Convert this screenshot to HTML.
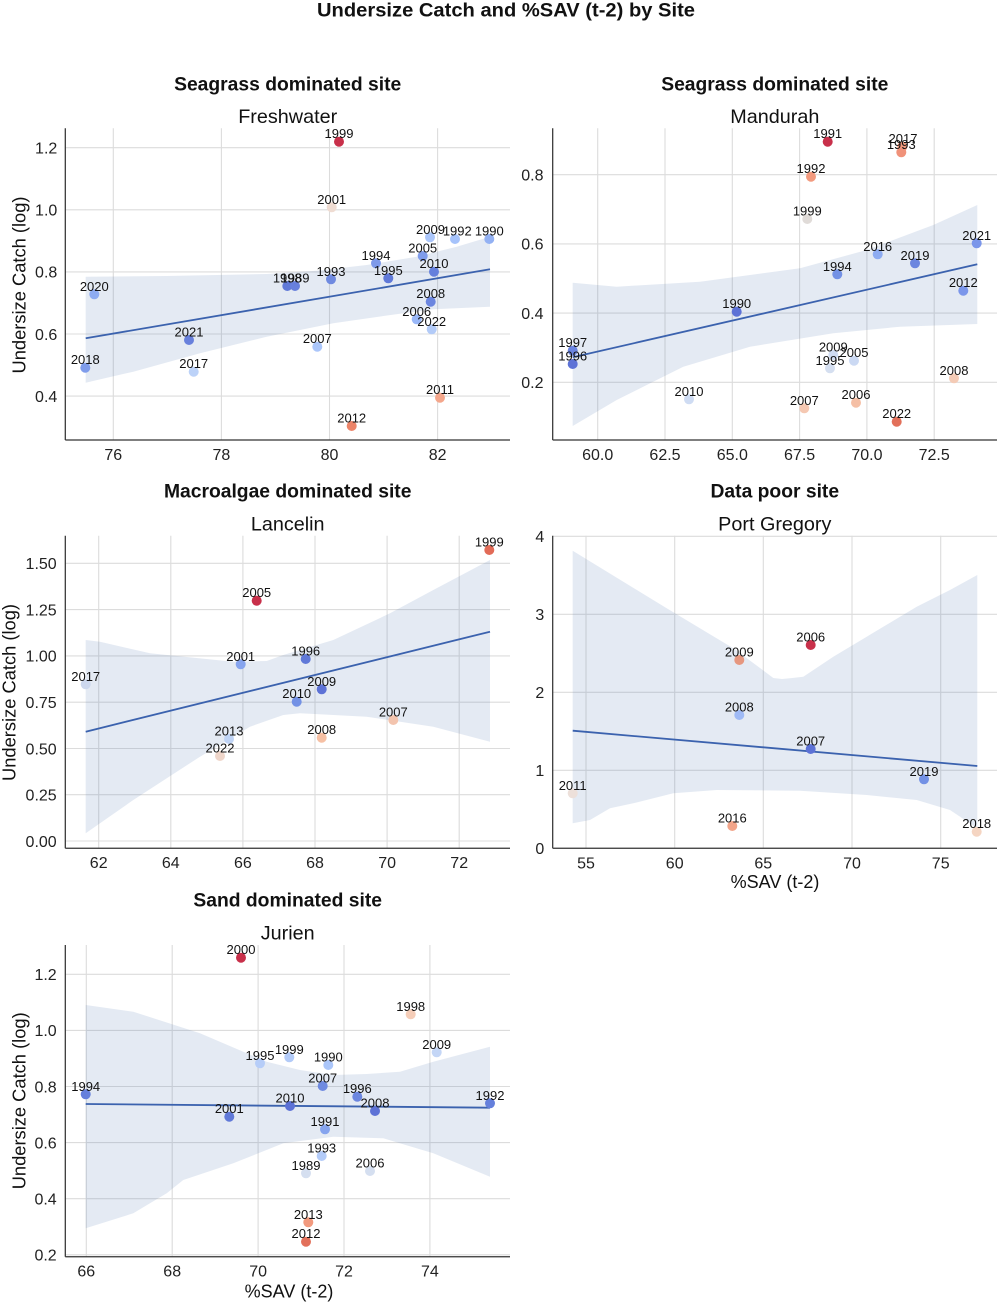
<!DOCTYPE html>
<html><head><meta charset="utf-8"><style>
html,body{margin:0;padding:0;background:#fff;}
svg{display:block;font-family:"Liberation Sans",Arial,sans-serif;}
.g{stroke:#dcdcdc;stroke-width:1.1;}
.sp{stroke:#333;stroke-width:1.25;}
.band{fill:#4c72b0;fill-opacity:0.15;stroke:none;}
.rl{stroke:#3b62ae;stroke-width:1.8;fill:none;}
.tk{font-size:16px;fill:#222;}
.a{font-size:13px;fill:#111;text-anchor:middle;}
.bt{font-size:19.3px;font-weight:bold;fill:#111;text-anchor:middle;}
.st{font-size:19.8px;fill:#111;text-anchor:middle;}
.al{font-size:18px;fill:#111;text-anchor:middle;}
</style></head><body>
<svg width="1000" height="1302" viewBox="0 0 1000 1302" xmlns="http://www.w3.org/2000/svg">
<rect width="1000" height="1302" fill="#fff"/>
<text x="506" y="16.5" font-size="19.5" font-weight="bold" fill="#111" text-anchor="middle" textLength="378" lengthAdjust="spacingAndGlyphs">Undersize Catch and %SAV (t-2) by Site</text>

<!-- ===== Plot 1 Freshwater ===== -->
<g>
<line class="g" x1="65.3" y1="147.7" x2="510" y2="147.7"/>
<line class="g" x1="65.3" y1="209.8" x2="510" y2="209.8"/>
<line class="g" x1="65.3" y1="271.9" x2="510" y2="271.9"/>
<line class="g" x1="65.3" y1="334" x2="510" y2="334"/>
<line class="g" x1="65.3" y1="396.1" x2="510" y2="396.1"/>
<line class="g" x1="113.3" y1="128.3" x2="113.3" y2="440"/>
<line class="g" x1="221.4" y1="128.3" x2="221.4" y2="440"/>
<line class="g" x1="329.5" y1="128.3" x2="329.5" y2="440"/>
<line class="g" x1="437.6" y1="128.3" x2="437.6" y2="440"/>
<polygon class="band" points="85.7,276.7 166.7,276 266.7,274 316.7,270.7 366.7,265 416.7,256.7 456.7,246.7 490,236.7 490,306.7 433.3,309.3 383.3,316 333.3,323.3 266.7,336.7 200,353.3 133.3,371.7 85.7,382.7"/>
<line class="rl" x1="85.7" y1="338.3" x2="490" y2="269.3"/>
<line class="sp" x1="65.3" y1="128.3" x2="65.3" y2="440"/>
<line class="sp" x1="65.3" y1="440" x2="510" y2="440"/>
<g class="tk" text-anchor="end">
<text x="57.3" y="153.5">1.2</text><text x="57.3" y="215.6">1.0</text><text x="57.3" y="277.7">0.8</text><text x="57.3" y="339.8">0.6</text><text x="57.3" y="401.9">0.4</text>
</g>
<g class="tk" text-anchor="middle">
<text x="113.3" y="460">76</text><text x="221.4" y="460">78</text><text x="329.5" y="460">80</text><text x="437.6" y="460">82</text>
</g>
<text class="bt" x="287.7" y="90.5">Seagrass dominated site</text>
<text class="st" x="287.7" y="123">Freshwater</text>
<text class="al" transform="translate(25.5,285) rotate(-90)" textLength="177" lengthAdjust="spacingAndGlyphs">Undersize Catch (log)</text>
<circle cx="339" cy="141.7" r="5" fill="#c8304a"/>
<circle cx="331.7" cy="207.3" r="5" fill="#efdcd2"/>
<circle cx="430" cy="237.3" r="5" fill="#abc6fa"/>
<circle cx="455" cy="239" r="5" fill="#a6c3fb"/>
<circle cx="489.3" cy="239" r="5" fill="#93b1f3"/>
<circle cx="422.7" cy="256" r="5" fill="#7f9ceb"/>
<circle cx="376" cy="263.3" r="5" fill="#7e9aea"/>
<circle cx="434" cy="271.7" r="5" fill="#6580dc"/>
<circle cx="388.3" cy="278.3" r="5" fill="#6079d8"/>
<circle cx="331" cy="279.3" r="5" fill="#6f8ae0"/>
<circle cx="287.3" cy="286" r="5" fill="#6079d8"/>
<circle cx="295" cy="286" r="5" fill="#6880dc"/>
<circle cx="94.3" cy="294.3" r="5" fill="#8eacf2"/>
<circle cx="430.7" cy="301.7" r="5" fill="#6c86df"/>
<circle cx="416.7" cy="319.3" r="5" fill="#9ab8f8"/>
<circle cx="431.7" cy="329.3" r="5" fill="#b3cbf8"/>
<circle cx="189" cy="340" r="5" fill="#6880dc"/>
<circle cx="317.3" cy="346.7" r="5" fill="#abc6fa"/>
<circle cx="85.3" cy="367.7" r="5" fill="#7f9ceb"/>
<circle cx="193.7" cy="371.7" r="5" fill="#bcd2f8"/>
<circle cx="440" cy="397.7" r="5" fill="#f4a68b"/>
<circle cx="351.7" cy="426" r="5" fill="#ec8469"/>
<text class="a" x="339" y="138.2">1999</text>
<text class="a" x="331.7" y="203.8">2001</text>
<text class="a" x="430.5" y="233.8">2009</text>
<text class="a" x="457.3" y="235.5">1992</text>
<text class="a" x="489.3" y="235.5">1990</text>
<text class="a" x="422.7" y="252.5">2005</text>
<text class="a" x="376" y="259.8">1994</text>
<text class="a" x="434" y="268.2">2010</text>
<text class="a" x="388.3" y="274.8">1995</text>
<text class="a" x="331" y="275.8">1993</text>
<text class="a" x="287.3" y="282.5">1998</text>
<text class="a" x="295" y="282.5">1989</text>
<text class="a" x="94.3" y="290.8">2020</text>
<text class="a" x="430.7" y="298.2">2008</text>
<text class="a" x="416.7" y="315.8">2006</text>
<text class="a" x="431.7" y="325.8">2022</text>
<text class="a" x="189" y="336.5">2021</text>
<text class="a" x="317.3" y="343.2">2007</text>
<text class="a" x="85.3" y="364.2">2018</text>
<text class="a" x="193.7" y="368.2">2017</text>
<text class="a" x="440" y="394.2">2011</text>
<text class="a" x="351.7" y="422.5">2012</text>
</g>

<!-- ===== Plot 2 Mandurah ===== -->
<g>
<line class="g" x1="552.7" y1="174.7" x2="997" y2="174.7"/>
<line class="g" x1="552.7" y1="243.9" x2="997" y2="243.9"/>
<line class="g" x1="552.7" y1="313.1" x2="997" y2="313.1"/>
<line class="g" x1="552.7" y1="382.3" x2="997" y2="382.3"/>
<line class="g" x1="597.7" y1="128.3" x2="597.7" y2="440"/>
<line class="g" x1="665" y1="128.3" x2="665" y2="440"/>
<line class="g" x1="732.3" y1="128.3" x2="732.3" y2="440"/>
<line class="g" x1="799.6" y1="128.3" x2="799.6" y2="440"/>
<line class="g" x1="866.9" y1="128.3" x2="866.9" y2="440"/>
<line class="g" x1="934.2" y1="128.3" x2="934.2" y2="440"/>
<polygon class="band" points="572.7,282.7 616.7,286.7 700,281.7 800,268.3 866.7,250 933.3,225 977.3,205 977.3,324 900,326.7 833.3,333.3 750,346.7 683.3,366.7 616.7,400 572.7,426"/>
<line class="rl" x1="572.7" y1="357.3" x2="977.3" y2="264.3"/>
<line class="sp" x1="552.7" y1="128.3" x2="552.7" y2="440"/>
<line class="sp" x1="552.7" y1="440" x2="997" y2="440"/>
<g class="tk" text-anchor="end">
<text x="543.5" y="180.5">0.8</text><text x="543.5" y="249.7">0.6</text><text x="543.5" y="318.9">0.4</text><text x="543.5" y="388.1">0.2</text>
</g>
<g class="tk" text-anchor="middle">
<text x="597.7" y="460">60.0</text><text x="665" y="460">62.5</text><text x="732.3" y="460">65.0</text><text x="799.6" y="460">67.5</text><text x="866.9" y="460">70.0</text><text x="934.2" y="460">72.5</text>
</g>
<text class="bt" x="774.8" y="90.5">Seagrass dominated site</text>
<text class="st" x="774.8" y="123">Mandurah</text>
<circle cx="827.7" cy="141.7" r="5" fill="#c8304a"/>
<circle cx="902.3" cy="146.7" r="5" fill="#f29a7e"/>
<circle cx="901.3" cy="152.3" r="5" fill="#f0927a"/>
<circle cx="811" cy="176.7" r="5" fill="#f29a7e"/>
<circle cx="807.3" cy="219" r="5" fill="#e0dbd8"/>
<circle cx="976.7" cy="243.3" r="5" fill="#7b96ea"/>
<circle cx="877.7" cy="254.3" r="5" fill="#8eacf2"/>
<circle cx="915" cy="263.3" r="5" fill="#6c86df"/>
<circle cx="837.3" cy="274.3" r="5" fill="#7391e5"/>
<circle cx="963.3" cy="290.7" r="5" fill="#7b96ea"/>
<circle cx="736.7" cy="311.7" r="5" fill="#5d72d6"/>
<circle cx="572.7" cy="350.7" r="5" fill="#6a84e0"/>
<circle cx="572.7" cy="364" r="5" fill="#5d72d6"/>
<circle cx="833.3" cy="355" r="5" fill="#cfdcf3"/>
<circle cx="854" cy="360.7" r="5" fill="#cbd9f3"/>
<circle cx="830" cy="368.3" r="5" fill="#d5dff0"/>
<circle cx="954" cy="378.3" r="5" fill="#f4cbb6"/>
<circle cx="689" cy="399.3" r="5" fill="#cfdcf3"/>
<circle cx="804.3" cy="408.3" r="5" fill="#f5c8b2"/>
<circle cx="856" cy="402.7" r="5" fill="#f5bfa5"/>
<circle cx="896.7" cy="421.7" r="5" fill="#e2705a"/>
<text class="a" x="827.7" y="138.2">1991</text>
<text class="a" x="903" y="143.2">2017</text>
<text class="a" x="901.3" y="148.8">1993</text>
<text class="a" x="811" y="173.2">1992</text>
<text class="a" x="807.3" y="215.5">1999</text>
<text class="a" x="976.7" y="239.8">2021</text>
<text class="a" x="877.7" y="250.8">2016</text>
<text class="a" x="915" y="259.8">2019</text>
<text class="a" x="837.3" y="270.8">1994</text>
<text class="a" x="963.3" y="287.2">2012</text>
<text class="a" x="736.7" y="308.2">1990</text>
<text class="a" x="572.7" y="347.2">1997</text>
<text class="a" x="572.7" y="360.5">1996</text>
<text class="a" x="833.3" y="351.5">2009</text>
<text class="a" x="854" y="357.2">2005</text>
<text class="a" x="830" y="364.8">1995</text>
<text class="a" x="954" y="374.8">2008</text>
<text class="a" x="689" y="395.8">2010</text>
<text class="a" x="804.3" y="404.8">2007</text>
<text class="a" x="856" y="399.2">2006</text>
<text class="a" x="896.7" y="418.2">2022</text>
</g>

<!-- ===== Plot 3 Lancelin ===== -->
<g>
<line class="g" x1="65.3" y1="563.3" x2="510" y2="563.3"/>
<line class="g" x1="65.3" y1="609.6" x2="510" y2="609.6"/>
<line class="g" x1="65.3" y1="655.9" x2="510" y2="655.9"/>
<line class="g" x1="65.3" y1="702.2" x2="510" y2="702.2"/>
<line class="g" x1="65.3" y1="748.5" x2="510" y2="748.5"/>
<line class="g" x1="65.3" y1="794.7" x2="510" y2="794.7"/>
<line class="g" x1="65.3" y1="841" x2="510" y2="841"/>
<line class="g" x1="98.7" y1="535.7" x2="98.7" y2="848.3"/>
<line class="g" x1="170.8" y1="535.7" x2="170.8" y2="848.3"/>
<line class="g" x1="242.9" y1="535.7" x2="242.9" y2="848.3"/>
<line class="g" x1="315" y1="535.7" x2="315" y2="848.3"/>
<line class="g" x1="387.1" y1="535.7" x2="387.1" y2="848.3"/>
<line class="g" x1="459.2" y1="535.7" x2="459.2" y2="848.3"/>
<polygon class="band" points="85.7,640 100,641.7 150,653.3 233.3,661.7 266.7,661 283.3,655 333.3,640 390,613.3 433.3,590 490,560 490,741.7 433.3,726.7 366.7,716.7 300,713.3 283.3,715 250,726.7 200,756.7 133.3,800 85.7,833.3"/>
<line class="rl" x1="85.7" y1="731.7" x2="490" y2="631.7"/>
<line class="sp" x1="65.3" y1="535.7" x2="65.3" y2="848.3"/>
<line class="sp" x1="65.3" y1="848.3" x2="510" y2="848.3"/>
<g class="tk" text-anchor="end">
<text x="56.7" y="569.1">1.50</text><text x="56.7" y="615.4">1.25</text><text x="56.7" y="661.7">1.00</text><text x="56.7" y="708">0.75</text><text x="56.7" y="754.3">0.50</text><text x="56.7" y="800.5">0.25</text><text x="56.7" y="846.8">0.00</text>
</g>
<g class="tk" text-anchor="middle">
<text x="98.7" y="868">62</text><text x="170.8" y="868">64</text><text x="242.9" y="868">66</text><text x="315" y="868">68</text><text x="387.1" y="868">70</text><text x="459.2" y="868">72</text>
</g>
<text class="bt" x="287.7" y="497.7">Macroalgae dominated site</text>
<text class="st" x="287.7" y="530.7">Lancelin</text>
<text class="al" transform="translate(15.3,692.5) rotate(-90)" textLength="177" lengthAdjust="spacingAndGlyphs">Undersize Catch (log)</text>
<circle cx="489.3" cy="550" r="5" fill="#e26b57"/>
<circle cx="256.7" cy="600.7" r="5" fill="#c8304a"/>
<circle cx="305.7" cy="659" r="5" fill="#6079d8"/>
<circle cx="240.7" cy="664.3" r="5" fill="#86a4ee"/>
<circle cx="85.7" cy="684.3" r="5" fill="#cdd8ee"/>
<circle cx="321.7" cy="689.3" r="5" fill="#5d72d6"/>
<circle cx="296.7" cy="701.7" r="5" fill="#7391e5"/>
<circle cx="393.3" cy="720" r="5" fill="#f3c4ae"/>
<circle cx="229" cy="739" r="5" fill="#c0d4f5"/>
<circle cx="321.7" cy="737.7" r="5" fill="#f6c0a4"/>
<circle cx="220" cy="756" r="5" fill="#efd6ca"/>
<text class="a" x="489.3" y="546.5">1999</text>
<text class="a" x="256.7" y="597.2">2005</text>
<text class="a" x="305.7" y="655.5">1996</text>
<text class="a" x="240.7" y="660.8">2001</text>
<text class="a" x="85.7" y="680.8">2017</text>
<text class="a" x="321.7" y="685.8">2009</text>
<text class="a" x="296.7" y="698.2">2010</text>
<text class="a" x="393.3" y="716.5">2007</text>
<text class="a" x="229" y="735.5">2013</text>
<text class="a" x="321.7" y="734.2">2008</text>
<text class="a" x="220" y="752.5">2022</text>
</g>

<!-- ===== Plot 4 Port Gregory ===== -->
<g>
<line class="g" x1="552.7" y1="536.3" x2="997" y2="536.3"/>
<line class="g" x1="552.7" y1="614.3" x2="997" y2="614.3"/>
<line class="g" x1="552.7" y1="692.3" x2="997" y2="692.3"/>
<line class="g" x1="552.7" y1="770.3" x2="997" y2="770.3"/>
<line class="g" x1="586" y1="535.7" x2="586" y2="848.3"/>
<line class="g" x1="674.7" y1="535.7" x2="674.7" y2="848.3"/>
<line class="g" x1="763.3" y1="535.7" x2="763.3" y2="848.3"/>
<line class="g" x1="852" y1="535.7" x2="852" y2="848.3"/>
<line class="g" x1="940.7" y1="535.7" x2="940.7" y2="848.3"/>
<polygon class="band" points="572.7,550.7 666.7,608.3 733.3,648.3 760,668 773.3,678 782,679 790,678.3 803.3,676.7 833.3,656.7 866.7,636.7 916.7,606.7 950,590 977.3,575 977.3,828.3 950,810 916.7,800 866.7,795 800,790.7 716.7,790 673.3,793.3 633.3,803.3 610,808.3 590,820 572.7,823.3"/>
<line class="rl" x1="572.7" y1="730.7" x2="977.3" y2="766"/>
<line class="sp" x1="552.7" y1="535.7" x2="552.7" y2="848.3"/>
<line class="sp" x1="552.7" y1="848.3" x2="997" y2="848.3"/>
<g class="tk" text-anchor="end">
<text x="544.3" y="542.1">4</text><text x="544.3" y="620.1">3</text><text x="544.3" y="698.1">2</text><text x="544.3" y="776.1">1</text><text x="544.3" y="854.1">0</text>
</g>
<g class="tk" text-anchor="middle">
<text x="586" y="868.3">55</text><text x="674.7" y="868.3">60</text><text x="763.3" y="868.3">65</text><text x="852" y="868.3">70</text><text x="940.7" y="868.3">75</text>
</g>
<text class="bt" x="774.8" y="497.7">Data poor site</text>
<text class="st" x="774.8" y="530.7">Port Gregory</text>
<text class="al" x="775" y="887.8">%SAV (t-2)</text>
<circle cx="810.7" cy="645" r="5" fill="#c8304a"/>
<circle cx="739.3" cy="660" r="5" fill="#e6977f"/>
<circle cx="739.3" cy="715" r="5" fill="#9fbaf6"/>
<circle cx="810.7" cy="749" r="5" fill="#5d72d6"/>
<circle cx="924" cy="779.3" r="5" fill="#7391e5"/>
<circle cx="572.7" cy="793.3" r="5" fill="#ede0da"/>
<circle cx="732.3" cy="826" r="5" fill="#f2a58a"/>
<circle cx="976.7" cy="831.7" r="5" fill="#f5d5c2"/>
<text class="a" x="810.7" y="641.5">2006</text>
<text class="a" x="739.3" y="656.5">2009</text>
<text class="a" x="739.3" y="711.5">2008</text>
<text class="a" x="810.7" y="745.5">2007</text>
<text class="a" x="924" y="775.8">2019</text>
<text class="a" x="572.7" y="789.8">2011</text>
<text class="a" x="732.3" y="822.5">2016</text>
<text class="a" x="976.7" y="828.2">2018</text>
</g>

<!-- ===== Plot 5 Jurien ===== -->
<g>
<line class="g" x1="65.3" y1="974.3" x2="510" y2="974.3"/>
<line class="g" x1="65.3" y1="1030.4" x2="510" y2="1030.4"/>
<line class="g" x1="65.3" y1="1086.5" x2="510" y2="1086.5"/>
<line class="g" x1="65.3" y1="1142.6" x2="510" y2="1142.6"/>
<line class="g" x1="65.3" y1="1198.7" x2="510" y2="1198.7"/>
<line class="g" x1="65.3" y1="1254.8" x2="510" y2="1254.8"/>
<line class="g" x1="86.3" y1="945" x2="86.3" y2="1256.7"/>
<line class="g" x1="172.2" y1="945" x2="172.2" y2="1256.7"/>
<line class="g" x1="258.1" y1="945" x2="258.1" y2="1256.7"/>
<line class="g" x1="344" y1="945" x2="344" y2="1256.7"/>
<line class="g" x1="429.9" y1="945" x2="429.9" y2="1256.7"/>
<polygon class="band" points="85.7,1005 133.3,1011.7 200,1033.3 266.7,1061.7 300,1070 333.3,1075 366.7,1074 400,1071.7 433.3,1061.7 490,1046.7 490,1176.7 433.3,1153.3 383.3,1138.3 333.3,1136.7 283.3,1143.3 233.3,1163.3 183.3,1180 166.7,1193.3 133.3,1213.3 85.7,1228.3"/>
<line class="rl" x1="85.7" y1="1104" x2="490" y2="1107.7"/>
<line class="sp" x1="65.3" y1="945" x2="65.3" y2="1256.7"/>
<line class="sp" x1="65.3" y1="1256.7" x2="510" y2="1256.7"/>
<g class="tk" text-anchor="end">
<text x="56.7" y="980.1">1.2</text><text x="56.7" y="1036.2">1.0</text><text x="56.7" y="1092.3">0.8</text><text x="56.7" y="1148.4">0.6</text><text x="56.7" y="1204.5">0.4</text><text x="56.7" y="1260.6">0.2</text>
</g>
<g class="tk" text-anchor="middle">
<text x="86.3" y="1276.7">66</text><text x="172.2" y="1276.7">68</text><text x="258.1" y="1276.7">70</text><text x="344" y="1276.7">72</text><text x="429.9" y="1276.7">74</text>
</g>
<text class="bt" x="287.7" y="906.5">Sand dominated site</text>
<text class="st" x="287.7" y="939.5">Jurien</text>
<text class="al" transform="translate(25.5,1100.8) rotate(-90)" textLength="177" lengthAdjust="spacingAndGlyphs">Undersize Catch (log)</text>
<text class="al" x="289" y="1297.6">%SAV (t-2)</text>
<circle cx="241" cy="957.7" r="5" fill="#c8304a"/>
<circle cx="410.7" cy="1014.3" r="5" fill="#f5cdb8"/>
<circle cx="436.7" cy="1052.3" r="5" fill="#c4d6f6"/>
<circle cx="289.3" cy="1057.3" r="5" fill="#b3cbf8"/>
<circle cx="260" cy="1063.3" r="5" fill="#b6cdf8"/>
<circle cx="328.3" cy="1065" r="5" fill="#abc6fa"/>
<circle cx="322.7" cy="1086" r="5" fill="#6f8ae0"/>
<circle cx="85.7" cy="1094.3" r="5" fill="#6580dc"/>
<circle cx="357.3" cy="1096.7" r="5" fill="#6c86df"/>
<circle cx="490" cy="1103.3" r="5" fill="#6580dc"/>
<circle cx="290" cy="1106" r="5" fill="#5d72d6"/>
<circle cx="375" cy="1111" r="5" fill="#5d72d6"/>
<circle cx="229.3" cy="1116.7" r="5" fill="#6079d8"/>
<circle cx="325" cy="1129.3" r="5" fill="#86a4ee"/>
<circle cx="321.7" cy="1156" r="5" fill="#b3cbf8"/>
<circle cx="306" cy="1173.3" r="5" fill="#d5dff0"/>
<circle cx="370" cy="1171" r="5" fill="#d5dff0"/>
<circle cx="308.3" cy="1222.3" r="5" fill="#f29a7e"/>
<circle cx="306" cy="1241.7" r="5" fill="#e2705a"/>
<text class="a" x="241" y="954.2">2000</text>
<text class="a" x="410.7" y="1010.8">1998</text>
<text class="a" x="436.7" y="1048.8">2009</text>
<text class="a" x="289.3" y="1053.8">1999</text>
<text class="a" x="260" y="1059.8">1995</text>
<text class="a" x="328.3" y="1061.5">1990</text>
<text class="a" x="322.7" y="1082.5">2007</text>
<text class="a" x="85.7" y="1090.8">1994</text>
<text class="a" x="357.3" y="1093.2">1996</text>
<text class="a" x="490" y="1099.8">1992</text>
<text class="a" x="290" y="1102.5">2010</text>
<text class="a" x="375" y="1107.5">2008</text>
<text class="a" x="229.3" y="1113.2">2001</text>
<text class="a" x="325" y="1125.8">1991</text>
<text class="a" x="321.7" y="1152.5">1993</text>
<text class="a" x="306" y="1169.8">1989</text>
<text class="a" x="370" y="1167.5">2006</text>
<text class="a" x="308.3" y="1218.8">2013</text>
<text class="a" x="306" y="1238.2">2012</text>
</g>
</svg>
</body></html>
